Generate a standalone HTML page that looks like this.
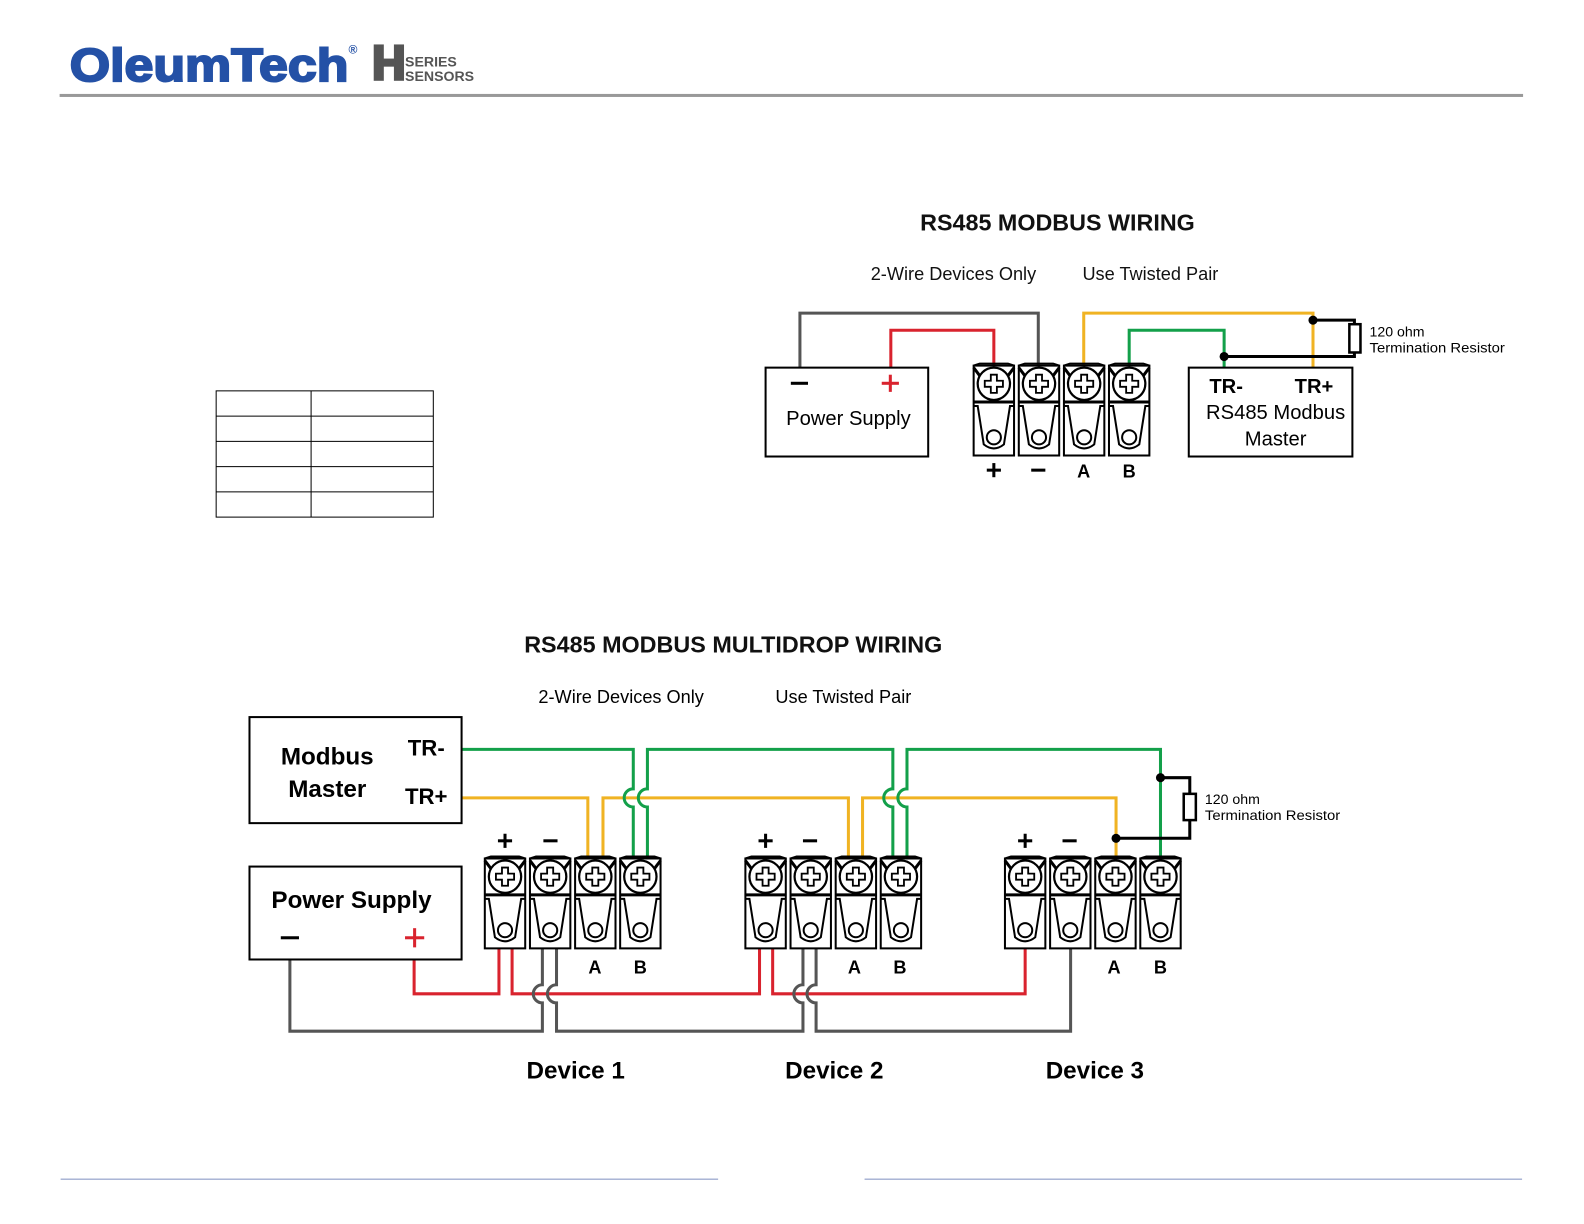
<!DOCTYPE html>
<html><head><meta charset="utf-8"><style>
html,body{margin:0;padding:0;background:#fff}
svg{display:block}
text{font-family:"Liberation Sans",sans-serif}
</style></head><body>
<svg width="1584" height="1224" viewBox="0 0 1568.3 1211.9" xmlns="http://www.w3.org/2000/svg">
<defs>
<g id="t">
 <rect x="-20" y="0" width="40" height="89" fill="#fff" stroke="#000" stroke-width="2"/>
 <path d="M-20 0 L-14 -2 L14 -2 L20 0" fill="none" stroke="#000" stroke-width="2"/>
 <path d="M-20 2 L-14 10 M20 2 L14 10" stroke="#000" stroke-width="3"/>
 <path d="M-20 36 H20" stroke="#000" stroke-width="3"/>
 <path d="M-20 40 H-16 L-10 78 Q0 86 10 78 L16 40 H20" fill="none" stroke="#000" stroke-width="2"/>
 <circle cx="0" cy="71" r="7" fill="#fff" stroke="#000" stroke-width="2"/>
 <circle cx="0" cy="18" r="16" fill="#fff" stroke="#000" stroke-width="2.2"/>
 <path d="M-3 9 h6 v6 h6 v6 h-6 v6 h-6 v-6 h-6 v-6 h6z" fill="#fff" stroke="#000" stroke-width="1.8"/>
</g>
<g id="blk">
 <use href="#t" x="0"/><use href="#t" x="44.7"/><use href="#t" x="89.4"/><use href="#t" x="134"/>
</g>
</defs>

<!-- header -->
<text x="69" y="80" font-size="46" font-weight="bold" fill="#2451a6" textLength="276" lengthAdjust="spacingAndGlyphs" stroke="#2451a6" stroke-width="2">OleumTech</text>
<text x="345" y="53" font-size="12" font-weight="bold" fill="#2451a6">®</text>
<rect x="370" y="44" width="10" height="36" fill="#555"/><rect x="390" y="44" width="10" height="36" fill="#555"/><rect x="378" y="58" width="14" height="8" fill="#555"/>
<text x="401" y="66" font-size="14" font-weight="bold" fill="#555">SERIES</text>
<text x="401" y="80" font-size="14" font-weight="bold" fill="#555">SENSORS</text>
<rect x="59" y="93" width="1449" height="3" fill="#999"/>
<rect x="60" y="1167" width="651" height="1" fill="#8090c0"/>
<rect x="856" y="1167" width="651" height="1" fill="#8090c0"/>

<!-- table -->
<g fill="none" stroke="#000" stroke-width="1">
<rect x="214" y="387" width="215" height="125"/>
<line x1="308" y1="387" x2="308" y2="512"/>
<line x1="214" y1="412" x2="429" y2="412"/><line x1="214" y1="437" x2="429" y2="437"/>
<line x1="214" y1="462" x2="429" y2="462"/><line x1="214" y1="487" x2="429" y2="487"/>
</g>

<!-- TOP DIAGRAM -->
<text x="1047" y="228" font-size="23" font-weight="bold" text-anchor="middle" fill="#111" textLength="272" lengthAdjust="spacingAndGlyphs">RS485 MODBUS WIRING</text>
<text x="944" y="277" font-size="18" text-anchor="middle" fill="#111">2-Wire Devices Only</text>
<text x="1139" y="277" font-size="18" text-anchor="middle" fill="#111">Use Twisted Pair</text>
<g fill="none" stroke-width="3">
<path d="M792 364 V310 H1028 V380" stroke="#555"/>
<path d="M882 364 V327 H984 V380" stroke="#d9232e"/>
<path d="M1073 380 V310 H1300 V364" stroke="#f0b323"/>
<path d="M1118 380 V327 H1212 V364" stroke="#13a04a"/>
<path d="M1300 317 H1341 V353 H1212" stroke="#000"/>
</g>
<rect x="1336" y="321" width="11" height="28" fill="#fff" stroke="#000" stroke-width="2.5"/>
<circle cx="1300" cy="317" r="4.5"/><circle cx="1212" cy="353" r="4.5"/>
<text x="1356" y="333" font-size="14">120 ohm</text>
<text x="1356" y="349" font-size="14" textLength="134" lengthAdjust="spacingAndGlyphs">Termination Resistor</text>
<rect x="758" y="364" width="161" height="88" fill="#fff" stroke="#000" stroke-width="2"/>
<rect x="783" y="378" width="17" height="3" fill="#000"/>
<rect x="873" y="378" width="17" height="3" fill="#d9232e"/><rect x="880" y="371" width="3" height="17" fill="#d9232e"/>
<text x="840" y="421" font-size="20" text-anchor="middle">Power Supply</text>
<rect x="1177" y="364" width="162" height="88" fill="#fff" stroke="#000" stroke-width="2"/>
<text x="1214" y="389" font-size="20" font-weight="bold" text-anchor="middle">TR-</text>
<text x="1301" y="389" font-size="20" font-weight="bold" text-anchor="middle">TR+</text>
<text x="1263" y="415" font-size="20" text-anchor="middle">RS485 Modbus</text>
<text x="1263" y="441" font-size="20" text-anchor="middle">Master</text>
<use href="#blk" x="984" y="362"/>
<g font-size="18" font-weight="bold" text-anchor="middle">
<text x="1073" y="473">A</text><text x="1118" y="473">B</text>
</g>
<rect x="977" y="464" width="14" height="3" fill="#000"/><rect x="982.5" y="458.5" width="3" height="14" fill="#000"/>
<rect x="1021" y="464" width="14" height="3" fill="#000"/>

<!-- BOTTOM DIAGRAM -->
<text x="726" y="646" font-size="23" font-weight="bold" text-anchor="middle" fill="#111" textLength="414" lengthAdjust="spacingAndGlyphs">RS485 MODBUS MULTIDROP WIRING</text>
<text x="615" y="696" font-size="18" text-anchor="middle">2-Wire Devices Only</text>
<text x="835" y="696" font-size="18" text-anchor="middle">Use Twisted Pair</text>

<g fill="none" stroke-width="3">
<path d="M457 790 H582 V860" stroke="#f0b323"/>
<path d="M597 860 V790 H840 V860" stroke="#f0b323"/>
<path d="M854 860 V790 H1105 V860" stroke="#f0b323"/>
<path d="M457 742 H627 V781 A9 9 0 0 0 627 799 V860" stroke="#13a04a"/>
<path d="M641 860 V799 A9 9 0 0 1 641 781 V742 H884 V781 A9 9 0 0 0 884 799 V860" stroke="#13a04a"/>
<path d="M898 860 V799 A9 9 0 0 1 898 781 V742 H1149 V860" stroke="#13a04a"/>
<path d="M1149 770 H1178 V830 H1105" stroke="#000"/>
<path d="M410 930 V984 H494 V860" stroke="#d9232e"/>
<path d="M507 860 V984 H752 V860" stroke="#d9232e"/>
<path d="M765 860 V984 H1015 V860" stroke="#d9232e"/>
<path d="M287 950 V1021 H537 V993 A9 9 0 0 1 537 975 V860" stroke="#555"/>
<path d="M551 860 V975 A9 9 0 0 0 551 993 V1021 H795 V993 A9 9 0 0 1 795 975 V860" stroke="#555"/>
<path d="M808 860 V975 A9 9 0 0 0 808 993 V1021 H1060 V860" stroke="#555"/>
</g>
<rect x="1172" y="786" width="12" height="26" fill="#fff" stroke="#000" stroke-width="2.5"/>
<circle cx="1149" cy="770" r="4.5"/><circle cx="1105" cy="830" r="4.5"/>
<text x="1193" y="796" font-size="14">120 ohm</text>
<text x="1193" y="812" font-size="14" textLength="134" lengthAdjust="spacingAndGlyphs">Termination Resistor</text>

<rect x="247" y="710" width="210" height="105" fill="#fff" stroke="#000" stroke-width="2"/>
<text x="324" y="757" font-size="24" font-weight="bold" text-anchor="middle">Modbus</text>
<text x="324" y="789" font-size="24" font-weight="bold" text-anchor="middle">Master</text>
<text x="422" y="748" font-size="22" font-weight="bold" text-anchor="middle">TR-</text>
<text x="422" y="796" font-size="22" font-weight="bold" text-anchor="middle">TR+</text>
<rect x="247" y="858" width="210" height="92" fill="#fff" stroke="#000" stroke-width="2"/>
<text x="348" y="899" font-size="24" font-weight="bold" text-anchor="middle">Power Supply</text>
<rect x="278" y="927" width="18" height="3" fill="#000"/>
<rect x="401" y="927" width="19" height="3" fill="#d9232e"/><rect x="409" y="919" width="3" height="19" fill="#d9232e"/>

<use href="#blk" x="500" y="850"/>
<use href="#blk" x="758" y="850"/>
<use href="#blk" x="1015" y="850"/>
<g fill="#000">
<rect x="493" y="831" width="14" height="3"/><rect x="498.5" y="825.5" width="3" height="14"/><rect x="538" y="831" width="14" height="3"/>
<rect x="751" y="831" width="14" height="3"/><rect x="756.5" y="825.5" width="3" height="14"/><rect x="795" y="831" width="14" height="3"/>
<rect x="1008" y="831" width="14" height="3"/><rect x="1013.5" y="825.5" width="3" height="14"/><rect x="1052" y="831" width="14" height="3"/>
</g>
<g font-size="18" font-weight="bold" text-anchor="middle">
<text x="589" y="964">A</text><text x="634" y="964">B</text>
<text x="846" y="964">A</text><text x="891" y="964">B</text>
<text x="1103" y="964">A</text><text x="1149" y="964">B</text>
</g>
<g font-size="24" font-weight="bold" text-anchor="middle">
<text x="570" y="1068">Device 1</text><text x="826" y="1068">Device 2</text><text x="1084" y="1068">Device 3</text>
</g>
</svg>
</body></html>
